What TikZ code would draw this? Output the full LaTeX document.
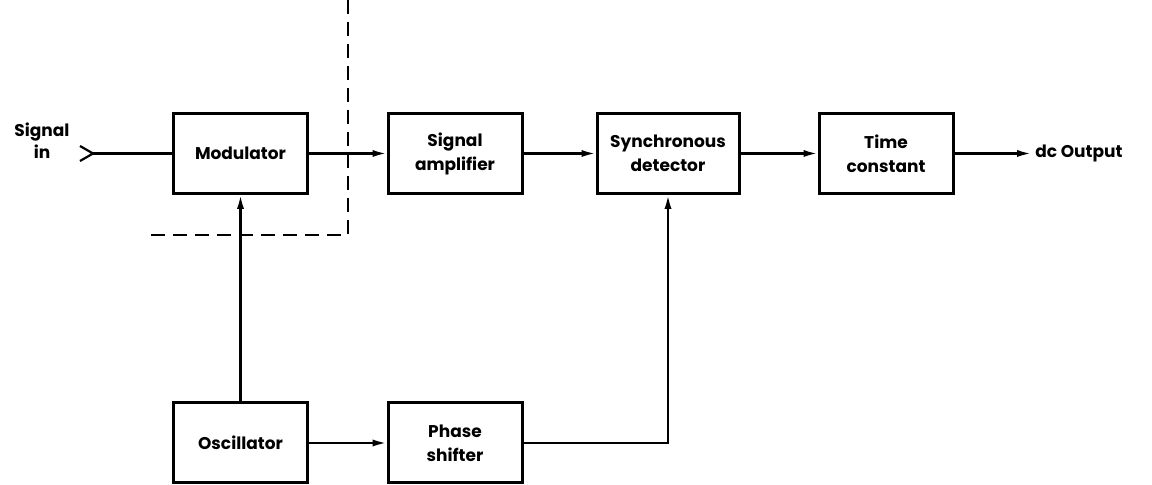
\documentclass[tikz,border=0pt]{standalone}
\usepackage{fontspec}
\setmainfont{Poppins}
\usetikzlibrary{arrows.meta}

\begin{document}
\begin{tikzpicture}[x=0.5pt,y=-0.5pt,
  blk/.style={draw, line width=1.5pt, minimum height=40pt, inner sep=0pt,
    align=center, font=\fontsize{8.5}{12}\selectfont\bfseries},
  conn/.style={line width=1.1pt, -{Latex[length=7pt,width=3.6pt]}},
  wire/.style={line width=1.1pt},
  shield/.style={line width=1.4pt, dash pattern=on 7pt off 4pt},
  lbl/.style={font=\fontsize{8.5}{11}\selectfont\bfseries, align=center, inner sep=0pt},
]
\useasboundingbox (0,0) rectangle (1152,485);
\def\rowA{153.5}
\def\rowB{443}
% blocks
\foreach \nm/\xx/\yy/\ww/\txt in {%
  mod/240.5/\rowA/67/{Modulator},
  amp/455/\rowA/67/{Signal\\amplifier},
  det/668/\rowA/71/{Synchronous\\detector},
  tc/886/\rowA/67/{Time\\constant},
  osc/240.5/\rowB/67/{Oscillator},
  ps/455/\rowB/67/{Phase\\shifter}%
} {
  \node[blk, minimum width=\ww pt] (\nm) at (\xx,\yy) {\txt};
}
% input
\node[lbl] (sigin) at (42,141) {Signal\\in};
\coordinate (jack) at (93,\rowA);
\draw[wire] (80,146) -- (jack) -- (80,161);
\draw[wire] (jack) -- (mod.west);
% signal path
\draw[conn] (mod) -- (amp);
\draw[conn] (amp) -- (det);
\draw[conn] (det) -- (tc);
\coordinate (dcout) at (1031,\rowA);
\draw[conn] (tc.east) -- (dcout);
\node[lbl, anchor=west] (outlbl) at (1035,\rowA) {dc Output};
% reference path
\draw[conn] (osc) -- (mod);
\draw[conn] (osc) -- (ps);
\draw[conn] (ps.east) -| (det.south);
% screen
\coordinate (shtop) at (348,0);
\coordinate (shcorner) at (348,235);
\coordinate (shend) at (148,235);
\draw[shield] (shtop) -- (shcorner) -- (shend);
\end{tikzpicture}
\end{document}
